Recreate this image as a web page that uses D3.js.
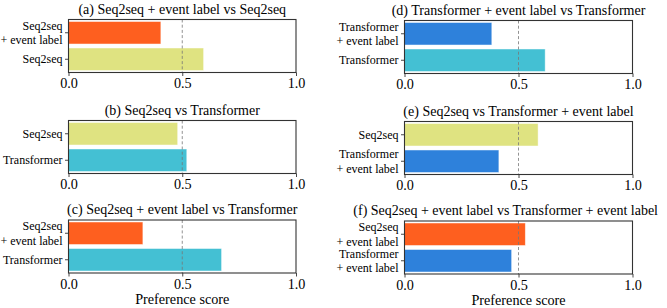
<!DOCTYPE html>
<html><head><meta charset="utf-8">
<script src="https://cdn.jsdelivr.net/npm/d3@7"></script>
</head>
<body style="margin:0;background:#fff">
<svg id="chart" width="667" height="308" style="display:block"></svg>
<script>
// ---- data ----
const panelTitles = [
  "(a) Seq2seq + event label vs Seq2seq",
  "(b) Seq2seq vs Transformer",
  "(c) Seq2seq + event label vs Transformer",
  "(d) Transformer + event label vs Transformer",
  "(e) Seq2seq vs Transformer + event label",
  "(f) Seq2seq + event label vs Transformer + event label"
];
// models compared in each panel (top bar first)
const panelModels = [
  ["s2s_ev", "s2s"],
  ["s2s", "tf"],
  ["s2s_ev", "tf"],
  ["tf_ev", "tf"],
  ["s2s", "tf_ev"],
  ["s2s_ev", "tf_ev"]
];
// preference scores (top bar first)
const panelScores = [
  [0.406, 0.594],
  [0.480, 0.520],
  [0.327, 0.673],
  [0.383, 0.617],
  [0.586, 0.414],
  [0.530, 0.470]
];
const modelLabels = {
  s2s_ev: ["Seq2seq", "+ event label"],
  s2s: ["Seq2seq"],
  tf: ["Transformer"],
  tf_ev: ["Transformer", "+ event label"]
};
const modelColors = {
  s2s_ev: "#fe5f1f",
  s2s: "#dfe381",
  tf: "#44c0d3",
  tf_ev: "#2e81db"
};
const xTicks = [0.0, 0.5, 1.0];
const xLabel = "Preference score";
const refLine = 0.5;

const FONT = "Liberation Serif";

// ---- layout ----
const svg = d3.select("#chart");
const cols = [
  {x0: 68.5, x1: 296, tops: [19.5, 120.5, 220]},
  {x0: 404.5, x1: 632.5, tops: [20.5, 121.5, 221]}
];
const panelH = 53;

function txt(sel, size) {
  return sel.attr("font-family", FONT).attr("font-size", size).attr("fill", "#000")
    .style("font-family", FONT, "important").style("font-size", size + "px", "important");
}

panelTitles.forEach((title, p) => {
  const col = cols[Math.floor(p / 3)];
  const row = p % 3;
  const top = col.tops[row];
  const bottom = top + panelH;
  const x = d3.scaleLinear().domain([0, 1]).range([col.x0, col.x1]);
  const models = panelModels[p];
  const y = d3.scaleBand().domain(models).range([top, bottom])
    .paddingInner(0.15).paddingOuter(0.075);
  const g = svg.append("g");

  // bars
  g.selectAll("rect.bar").data(models.map((m, i) => ({m, v: panelScores[p][i]})))
    .join("rect").attr("class", "bar")
    .attr("x", x(0)).attr("y", d => y(d.m))
    .attr("width", d => x(d.v) - x(0)).attr("height", y.bandwidth())
    .attr("fill", d => modelColors[d.m])
    .attr("stroke", "#ffffff").attr("stroke-opacity", 0.6).attr("stroke-width", 0.8);

  // reference dashed line
  g.append("line")
    .attr("x1", x(refLine)).attr("x2", x(refLine))
    .attr("y1", top).attr("y2", bottom)
    .attr("stroke", "#777").attr("stroke-width", 0.8)
    .attr("stroke-dasharray", "3,2.2");

  // frame
  g.append("rect").attr("x", col.x0).attr("y", top)
    .attr("width", col.x1 - col.x0).attr("height", panelH)
    .attr("fill", "none").attr("stroke", "#333").attr("stroke-width", 1.1);

  // x axis
  const xa = d3.axisBottom(x).tickValues(xTicks).tickFormat(d3.format(".1f"))
    .tickSizeInner(3.5).tickSizeOuter(0).tickPadding(2);
  const xg = g.append("g").attr("transform", `translate(0,${bottom})`).call(xa);
  xg.select(".domain").remove();
  xg.selectAll(".tick line").attr("stroke", "#333").attr("stroke-width", 0.9);
  txt(xg.selectAll(".tick text"), 14.2);

  // y axis
  const ya = d3.axisLeft(y).tickSizeInner(3.5).tickSizeOuter(0).tickFormat("");
  const yg = g.append("g").attr("transform", `translate(${col.x0},0)`).call(ya);
  yg.select(".domain").remove();
  yg.selectAll(".tick line").attr("stroke", "#333").attr("stroke-width", 0.9);
  models.forEach(m => {
    const lines = modelLabels[m];
    const cy = y(m) + y.bandwidth() / 2;
    const lh = 14.4;
    lines.forEach((ln, k) => {
      const off = (k - (lines.length - 1) / 2) * lh;
      txt(g.append("text"), 12).attr("x", col.x0 - 6).attr("y", cy + off)
        .attr("dy", "0.35em").attr("text-anchor", "end").text(ln);
    });
  });

  // title
  const t = txt(g.append("text"), 14).attr("x", (col.x0 + col.x1) / 2).attr("y", top - 6)
    .attr("text-anchor", "middle").text(title);
  const w = t.node().getComputedTextLength();
  const maxRight = 658;
  if ((col.x0 + col.x1) / 2 + w / 2 > maxRight) t.attr("x", maxRight - w / 2);

  // x label on bottom row
  if (row === 2) {
    txt(g.append("text"), 14.2).attr("x", (col.x0 + col.x1) / 2).attr("y", bottom + 30.5)
      .attr("text-anchor", "middle").text(xLabel);
  }
});
</script>
</body></html>
